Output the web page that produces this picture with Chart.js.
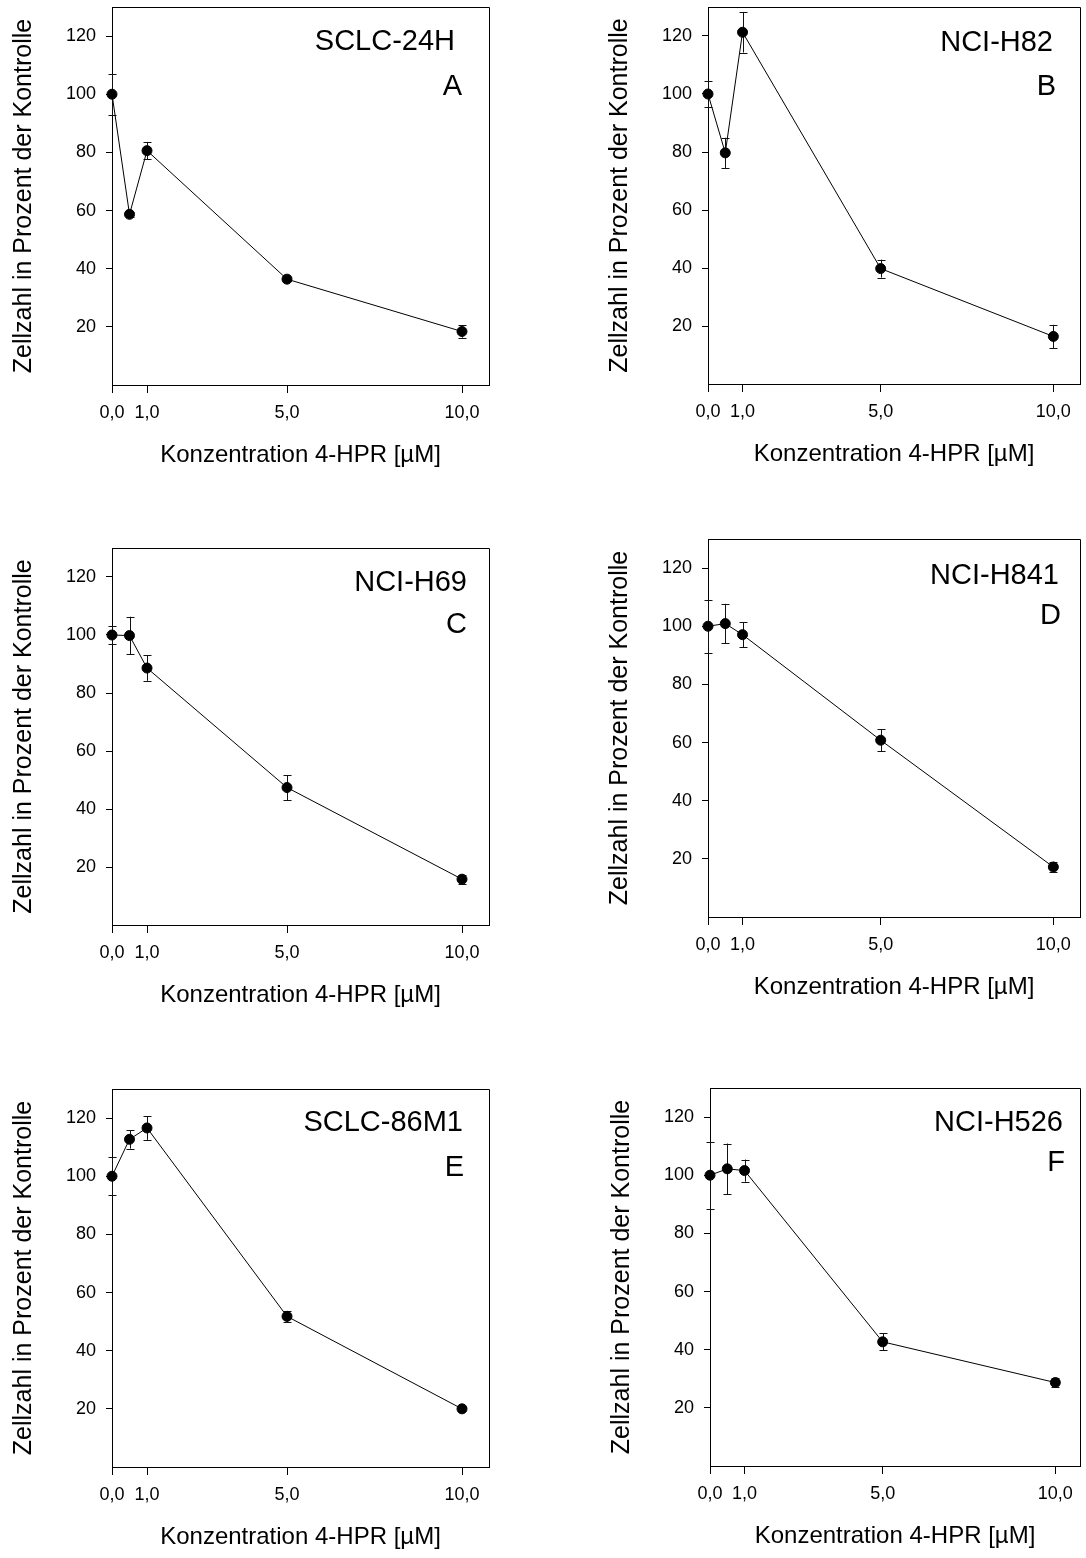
<!DOCTYPE html>
<html><head><meta charset="utf-8">
<script src="https://cdn.jsdelivr.net/npm/chart.js@4.4.1/dist/chart.umd.min.js"></script>
<style>
html,body{margin:0;padding:0;background:#fff;}
body{width:1086px;height:1558px;position:relative;overflow:hidden;}
canvas{position:absolute;}
</style></head><body>
<script>
// ---------- data ----------
const concentrations = [0, 0.5, 1, 5, 10];
const xTickValues = [0, 1, 5, 10];
const xTickLabels = ['0,0', '1,0', '5,0', '10,0'];
const yTickValues = [20, 40, 60, 80, 100, 120];
const cellLines = ['SCLC-24H', 'NCI-H82', 'NCI-H69', 'NCI-H841', 'SCLC-86M1', 'NCI-H526'];
const panelLetters = ['A', 'B', 'C', 'D', 'E', 'F'];

const valuesA = [100, 58.7, 80.6, 36.4, 18.4];
const errorsA = [7.1, 0.8, 3.0, 0.8, 2.1];
const valuesB = [100, 79.7, 121.3, 39.8, 16.4];
const errorsB = [4.4, 5.2, 7.0, 3.1, 4.0];
const valuesC = [100, 99.8, 88.6, 47.4, 15.8];
const errorsC = [3.1, 6.5, 4.4, 4.3, 1.6];
const valuesD = [100, 100.9, 97.1, 60.8, 17.2];
const errorsD = [9.1, 6.8, 4.3, 3.8, 1.8];
const valuesE = [100, 112.7, 116.6, 51.8, 20.0];
const errorsE = [6.6, 3.2, 4.1, 1.9, 0.6];
const valuesF = [100, 102.2, 101.6, 42.7, 28.7];
const errorsF = [11.6, 8.7, 3.8, 2.9, 1.4];

const yTitle = 'Zellzahl in Prozent der Kontrolle';
const xTitle = 'Konzentration 4-HPR [µM]';
const yMin = 0, yMax = 130, xMin = 0;

// ---------- layout (page pixels) ----------
const FONT = "'Liberation Sans', Arial, Helvetica, sans-serif";
const Y_AXIS_W = 112, PAD_TOP = 7, X_AXIS_H = 90;
const boxes = [
  {l:112, t:7,    r:489,  b:385,  padR:40, nameR:34, nameB:43, letR:27, letB:88},
  {l:708, t:7,    r:1085, b:384,  padR:1,  nameR:27, nameB:44, letR:24, letB:88},
  {l:112, t:548,  r:489,  b:925,  padR:40, nameR:22, nameB:43, letR:22, letB:85},
  {l:708, t:539,  r:1085, b:917,  padR:1,  nameR:21, nameB:45, letR:19, letB:85},
  {l:112, t:1089, r:489,  b:1467, padR:40, nameR:26, nameB:42, letR:25, letB:87},
  {l:710, t:1088, r:1085, b:1466, padR:1,  nameR:17, nameB:43, letR:15, letB:83}
];
const PX_PER_UNIT = 35;

const framePlugin = {
  id: 'frame',
  beforeDatasetsDraw(chart) {
    const {ctx, chartArea: a} = chart;
    ctx.save();
    ctx.strokeStyle = '#000'; ctx.lineWidth = 1;
    ctx.beginPath();
    ctx.moveTo(Math.round(a.left), Math.round(a.top) + 0.5);
    ctx.lineTo(Math.round(a.right) + 0.5, Math.round(a.top) + 0.5);
    ctx.lineTo(Math.round(a.right) + 0.5, Math.round(a.bottom));
    ctx.stroke();
    ctx.restore();
  }
};

const errorBarPlugin = {
  id: 'errorBars',
  beforeDatasetsDraw(chart, args, opts) {
    const {ctx} = chart;
    const xs = chart.scales.x, ys = chart.scales.y;
    const ds = chart.data.datasets[0];
    ctx.save();
    ctx.strokeStyle = '#111'; ctx.lineWidth = 1;
    (opts.errors || []).forEach((e, k) => {
      const p = ds.data[k];
      const px = Math.round(xs.getPixelForValue(p.x)) + 0.5;
      const top = ys.getPixelForValue(p.y + e);
      const bot = ys.getPixelForValue(p.y - e);
      const cap = 4;
      ctx.beginPath();
      ctx.moveTo(px, top); ctx.lineTo(px, bot);
      ctx.moveTo(px - cap, Math.round(top) + 0.5); ctx.lineTo(px + cap, Math.round(top) + 0.5);
      ctx.moveTo(px - cap, Math.round(bot) + 0.5); ctx.lineTo(px + cap, Math.round(bot) + 0.5);
      ctx.stroke();
    });
    ctx.restore();
  }
};

const labelPlugin = {
  id: 'panelLabel',
  afterDraw(chart, args, opts) {
    const {ctx, chartArea: a} = chart;
    ctx.save();
    ctx.fillStyle = '#000';
    ctx.font = '29px ' + FONT;
    ctx.textAlign = 'right';
    ctx.textBaseline = 'alphabetic';
    ctx.fillText(opts.name, a.right - opts.nameR, a.top + opts.nameB);
    ctx.fillText(opts.letter, a.right - opts.letR, a.top + opts.letB);
    ctx.restore();
  }
};

function makePanel(i, values, errors) {
  const bx = boxes[i];
  const cl = bx.l - Y_AXIS_W, ct = bx.t - PAD_TOP;
  const cw = bx.r + bx.padR - cl, ch = bx.b + X_AXIS_H - ct;
  const canvas = document.createElement('canvas');
  canvas.width = cw; canvas.height = ch;
  canvas.style.left = cl + 'px'; canvas.style.top = ct + 'px';
  canvas.style.width = cw + 'px'; canvas.style.height = ch + 'px';
  document.body.appendChild(canvas);
  const xMax = (bx.r - bx.l) / PX_PER_UNIT;
  new Chart(canvas, {
    type: 'line',
    data: {
      datasets: [{
        data: concentrations.map((x, k) => ({x: x, y: values[k]})),
        borderColor: '#000', borderWidth: 1, tension: 0,
        pointRadius: 5, pointBackgroundColor: '#000', pointBorderColor: '#000', pointBorderWidth: 1,
        clip: false, fill: false
      }]
    },
    options: {
      responsive: false, animation: false, events: [], devicePixelRatio: 1,
      layout: {padding: {top: PAD_TOP, left: 0, right: bx.padR, bottom: 0}},
      plugins: {
        legend: {display: false}, tooltip: {enabled: false},
        errorBars: {errors: errors},
        panelLabel: {name: cellLines[i], letter: panelLetters[i], nameR: bx.nameR, nameB: bx.nameB, letR: bx.letR, letB: bx.letB}
      },
      scales: {
        x: {
          type: 'linear', min: xMin, max: xMax,
          afterBuildTicks: s => { s.ticks = xTickValues.map(v => ({value: v})); },
          afterFit: s => { s.height = X_AXIS_H; s.paddingLeft = 0; s.paddingRight = 0; },
          ticks: {autoSkip: false, maxRotation: 0, minRotation: 0, padding: 9, color: '#000',
                  font: {family: FONT, size: 18}, callback: (v, idx) => xTickLabels[idx]},
          grid: {drawOnChartArea: false, drawTicks: true, tickLength: 8, color: '#000', tickColor: '#000', tickWidth: 1},
          border: {display: true, color: '#000', width: 1},
          title: {display: true, text: xTitle, color: '#000', font: {family: FONT, size: 24}, padding: {top: 0, bottom: 5.6}}
        },
        y: {
          type: 'linear', min: yMin, max: yMax,
          afterBuildTicks: s => { s.ticks = yTickValues.map(v => ({value: v})); },
          afterFit: s => { s.width = Y_AXIS_W; s.paddingTop = 0; s.paddingBottom = 0; },
          ticks: {autoSkip: false, padding: 10, color: '#000', font: {family: FONT, size: 18},
                  callback: v => String(v)},
          grid: {drawOnChartArea: false, drawTicks: true, tickLength: 6, color: '#000', tickColor: '#000', tickWidth: 1},
          border: {display: true, color: '#000', width: 1},
          title: {display: true, text: yTitle, color: '#000', font: {family: FONT, size: 25}, padding: {top: 9, bottom: 0}}
        }
      }
    },
    plugins: [framePlugin, errorBarPlugin, labelPlugin]
  });
}

makePanel(0, valuesA, errorsA);
makePanel(1, valuesB, errorsB);
makePanel(2, valuesC, errorsC);
makePanel(3, valuesD, errorsD);
makePanel(4, valuesE, errorsE);
makePanel(5, valuesF, errorsF);
</script>
</body></html>
